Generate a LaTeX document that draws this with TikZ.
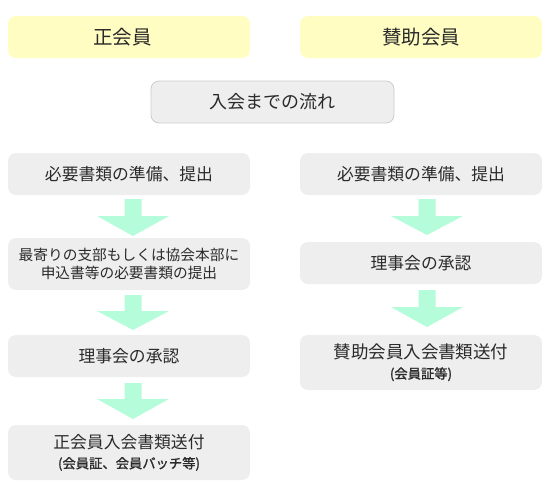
\documentclass[tikz,border=0pt]{standalone}
\usepackage{fontspec}
\setmainfont{Noto Sans CJK JP}
\newfontfamily\notefont[FakeBold=1.3]{Noto Sans CJK JP}
\usetikzlibrary{positioning}
\definecolor{hdrfill}{HTML}{FFFDC2}
\definecolor{boxfill}{HTML}{EEEEEE}
\definecolor{boxline}{HTML}{CCCCCC}
\definecolor{arrfill}{HTML}{B5FCDA}
\definecolor{txt}{HTML}{2A2A2A}
\tikzset{
  base/.style={rounded corners=8pt, text=txt, align=center, inner sep=0pt, minimum width=242pt},
  hdr/.style={base, fill=hdrfill, minimum height=42pt, font=\fontsize{19.5}{22}\selectfont},
  flowhdr/.style={base, fill=boxfill, draw=boxline, line width=0.8pt, minimum width=243pt, minimum height=42pt, font=\fontsize{18}{22}\selectfont},
  stepbox/.style={base, fill=boxfill, minimum height=42pt, font=\fontsize{16.8}{20}\selectfont},
  arr/.style={fill=arrfill, draw=none},
}
\newcommand{\blockarr}[4]{% x center, stem top, head top, tip
  \fill[arr] (#1-8.5,#2) -- (#1+8.5,#2) -- (#1+8.5,#3) -- (#1+36,#3) -- (#1,#4) -- (#1-36,#3) -- (#1-8.5,#3) -- cycle;}
\begin{document}
\begin{tikzpicture}[x=1pt,y=-1pt]
\useasboundingbox (0,0) rectangle (550,493);
% headers
\node[hdr] (hl) at (129,37) {};
\node[text=txt, font=\fontsize{19.5}{22}\selectfont, inner sep=0pt] (hlt) at (122.5,37.5) {正会員};
\node[hdr] (hr) at (421,37) {賛助会員};
\node[flowhdr] (flow) at (272.5,102) {入会までの流れ};
% left column
\node[stepbox] (l1) at (129,174) {必要書類の準備、提出};
\node[stepbox, minimum height=52pt, font=\fontsize{14.7}{18}\selectfont] (l2) at (129,264) {最寄りの支部もしくは協会本部に\\申込書等の必要書類の提出};
\node[stepbox] (l3) at (129,356) {理事会の承認};
\node[stepbox, minimum height=55pt] (l4) at (129,452.5) {{\fontsize{16.8}{16.5}\selectfont 正会員入会書類送付}\\{\notefont\fontsize{13.3}{16.5}\selectfont (会員証、会員バッチ等)}};
% right column
\node[stepbox] (r1) at (421,174) {必要書類の準備、提出};
\node[stepbox] (r2) at (421,263) {理事会の承認};
\node[stepbox, minimum height=55pt] (r3) at (421,362.5) {{\fontsize{17.5}{16.5}\selectfont 賛助会員入会書類送付}\\{\notefont\fontsize{13.3}{16.5}\selectfont (会員証等)}};
% arrows
\blockarr{133}{199}{216}{236}
\blockarr{133}{295}{311}{330}
\blockarr{133}{383}{399}{419}
\blockarr{427}{199}{216}{235}
\blockarr{427}{290}{307}{327}
\end{tikzpicture}
\end{document}
